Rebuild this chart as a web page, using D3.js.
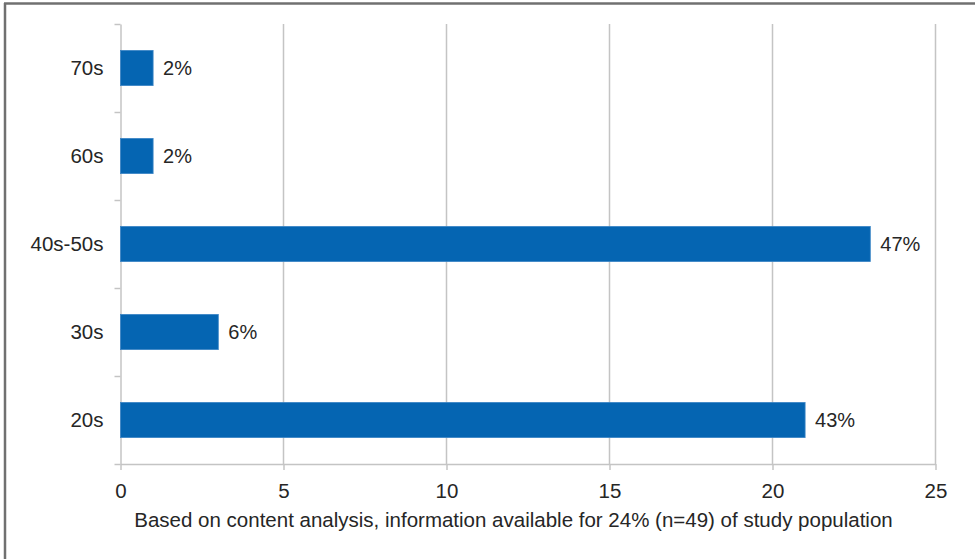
<!DOCTYPE html>
<html>
<head>
<meta charset="utf-8">
<script src="https://cdn.jsdelivr.net/npm/d3@7"></script>
<style>
  body { margin: 0; background: #fff; }
  text { font-family: "Liberation Sans", Arial, sans-serif; fill: #262626; }
</style>
</head>
<body>
<div id="chart"></div>
<script>
// data
var ageGroups = ["70s", "60s", "40s-50s", "30s", "20s"];
var counts = [1, 1, 23, 3, 21];
var percentLabels = ["2%", "2%", "47%", "6%", "43%"];
var xTicks = [0, 5, 10, 15, 20, 25];
var xTitle = "Based on content analysis, information available for 24% (n=49) of study population";

var data = ageGroups.map(function (g, i) {
  return { group: g, value: counts[i], label: percentLabels[i] };
});

// set the dimensions and margins of the graph
var W = 975, H = 559;
var margin = { top: 24, left: 120.5 },
  width = 815,
  height = 440;

var svg = d3.select("#chart")
  .append("svg")
  .attr("width", W)
  .attr("height", H);

// frame (top and left edges only are visible)
svg.append("line")
  .attr("x1", 4).attr("x2", W).attr("y1", 3.5).attr("y2", 3.5)
  .attr("stroke", "#707070").attr("stroke-width", 2.5);
svg.append("line")
  .attr("x1", 5).attr("x2", 5).attr("y1", 3).attr("y2", H)
  .attr("stroke", "#707070").attr("stroke-width", 2.5);

var g = svg.append("g")
  .attr("transform", "translate(" + margin.left + "," + margin.top + ")");

// scales
var x = d3.scaleLinear().domain([0, 25]).range([0, width]);
var y = d3.scaleBand().domain(ageGroups).range([0, height])
  .paddingInner(0.6).paddingOuter(0.3);

// vertical gridlines
g.selectAll(".grid")
  .data(xTicks.slice(1))
  .enter()
  .append("line")
  .attr("x1", function (d) { return x(d); })
  .attr("x2", function (d) { return x(d); })
  .attr("y1", 0)
  .attr("y2", height)
  .attr("stroke", "#c4c4c4")
  .attr("stroke-width", 1.5);

// X axis
var xAxis = g.append("g")
  .attr("transform", "translate(0," + height + ")")
  .call(d3.axisBottom(x).tickValues(xTicks).tickSize(6).tickSizeOuter(0));
xAxis.select(".domain").attr("stroke", "#c4c4c4").attr("stroke-width", 1.5);
xAxis.selectAll(".tick line").attr("stroke", "#c4c4c4").attr("stroke-width", 1.5);
xAxis.selectAll(".tick text")
  .attr("font-size", 20.5)
  .attr("dy", 0)
  .attr("y", 34)
  .style("fill", "#262626");

// Y axis: tick marks between categories
var yEdge = d3.scaleLinear().domain([0, ageGroups.length]).range([0, height]);
var yAxis = g.append("g")
  .call(d3.axisLeft(yEdge).ticks(ageGroups.length).tickFormat("").tickSize(6).tickSizeOuter(0));
yAxis.select(".domain").attr("stroke", "#c4c4c4").attr("stroke-width", 1.5);
yAxis.selectAll(".tick line").attr("stroke", "#c4c4c4").attr("stroke-width", 1.5);

// Y category labels
var yLabels = g.append("g")
  .call(d3.axisLeft(y).tickSize(0).tickPadding(17));
yLabels.select(".domain").remove();
yLabels.selectAll(".tick text")
  .attr("font-size", 20.5)
  .style("fill", "#262626");

// bars
g.selectAll(".bar")
  .data(data)
  .enter()
  .append("rect")
  .attr("class", "bar")
  .attr("x", x(0))
  .attr("y", function (d) { return y(d.group); })
  .attr("width", function (d) { return x(d.value) - x(0); })
  .attr("height", y.bandwidth())
  .attr("fill", "#0565b2")
  .attr("stroke", "#3d86c6")
  .attr("stroke-width", 0.8);

// value labels
g.selectAll(".val")
  .data(data)
  .enter()
  .append("text")
  .attr("x", function (d) { return x(d.value) + 10; })
  .attr("y", function (d) { return y(d.group) + y.bandwidth() / 2; })
  .attr("dy", "0.35em")
  .attr("font-size", 20)
  .text(function (d) { return d.label; });

// X axis title
svg.append("text")
  .attr("x", 513.5)
  .attr("y", 527)
  .attr("text-anchor", "middle")
  .attr("font-size", 20.5)
  .text(xTitle);
</script>
</body>
</html>
